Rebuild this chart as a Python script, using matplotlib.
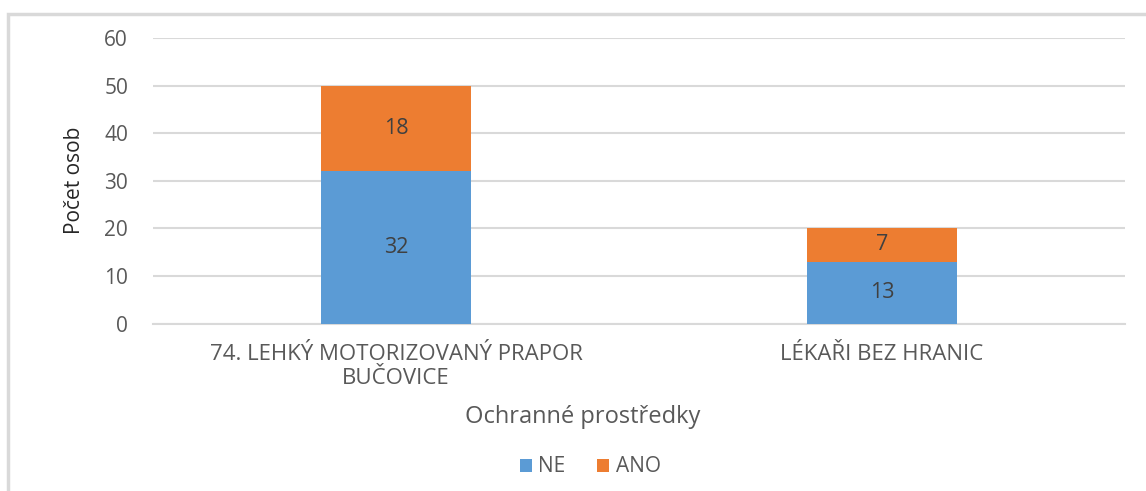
import matplotlib.pyplot as plt
from matplotlib.patches import Rectangle
import numpy as np

# data
categories = ["74. LEHKÝ MOTORIZOVANÝ PRAPOR\nBUČOVICE", "LÉKAŘI BEZ HRANIC"]
ne_vals = [32, 13]
ano_vals = [18, 7]
series_names = ["NE", "ANO"]
yticks = [0, 10, 20, 30, 40, 50, 60]

plt.rcParams['font.family'] = ['Open Sans', 'DejaVu Sans']
txt = '#595959'

fig = plt.figure(figsize=(11.46, 4.91), dpi=100)
ax = fig.add_axes([153/1146, 1-323.5/491, (1125-153)/1146, (323.5-38)/491])

# chart frame (cropped on right/bottom like the screenshot)
fig.patches.append(Rectangle((8/1146, -0.2), 1.2, 1.2 - 14/491,
                             transform=fig.transFigure, fill=False,
                             edgecolor='#D9D9D9', linewidth=2.5))

x = np.arange(len(categories))
w = 0.31
b1 = ax.bar(x, ne_vals, w, color='#5B9BD5', label=series_names[0], zorder=3)
b2 = ax.bar(x, ano_vals, w, bottom=ne_vals, color='#ED7D31', label=series_names[1], zorder=3)

for bars, vals, bottoms in [(b1, ne_vals, [0, 0]), (b2, ano_vals, ne_vals)]:
    for rect, v, b in zip(bars, vals, bottoms):
        ax.text(rect.get_x() + rect.get_width()/2, b + v/2, str(v),
                ha='center', va='center', fontsize=15.5, color='#404040', zorder=4)

ax.set_xlim(-0.5, 1.5)
ax.set_ylim(0, 60)
ax.set_yticks(yticks)
ax.set_yticklabels([str(t) for t in yticks], fontsize=15, color=txt)
ax.set_xticks(x)
ax.set_xticklabels(categories, fontsize=16, color=txt, linespacing=1.15)
ax.tick_params(axis='both', length=0)
ax.tick_params(axis='y', pad=18)
ax.tick_params(axis='x', pad=15)
ax.grid(axis='y', color='#D9D9D9', linewidth=1.5, zorder=0)
for s in ['top', 'right', 'left']:
    ax.spines[s].set_visible(False)
ax.spines['bottom'].set_color('#D9D9D9')
ax.spines['bottom'].set_linewidth(1.5)

ax.set_ylabel("Počet osob", fontsize=15, color='#262626', labelpad=14)
fig.text(583/1146, 1-417/491, "Ochranné prostředky", ha='center', va='center',
         fontsize=17, color=txt)

ax.legend(loc='center', bbox_to_anchor=(590/1146, 1-467/491),
          bbox_transform=fig.transFigure, ncol=2, frameon=False,
          fontsize=15, labelcolor=txt, handlelength=0.6, handleheight=0.6,
          handletextpad=0.3, columnspacing=1.5)

fig.savefig('out.png', dpi=100)
